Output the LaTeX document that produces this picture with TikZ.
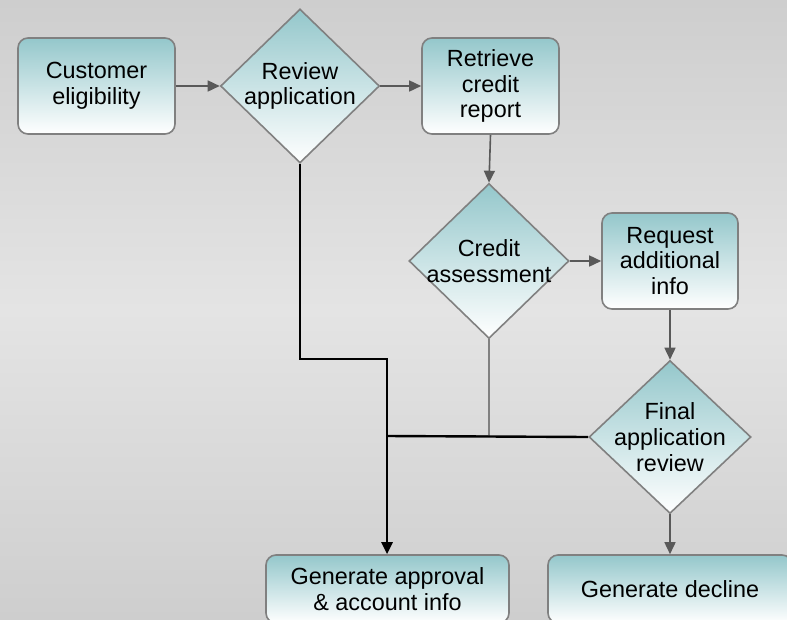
\documentclass[tikz,border=0pt]{standalone}
\usepackage{fontspec}
\setmainfont{Liberation Sans}
\usetikzlibrary{arrows.meta,shapes.geometric}

\definecolor{bgedge}{RGB}{206,206,206}
\definecolor{bgmid}{RGB}{228,228,228}
\definecolor{boxteal}{RGB}{148,199,203}
\definecolor{boxline}{RGB}{128,128,128}
\definecolor{flowgray}{RGB}{89,89,89}

\begin{document}
\begin{tikzpicture}[x=1pt, y=-1pt,
  font=\fontsize{23.4}{25.8}\selectfont,
  >={Triangle[length=12pt, width=11pt]},
  process/.style={rectangle, rounded corners=10pt, draw=boxline, line width=1.6pt,
    top color=boxteal, bottom color=white, align=center, inner sep=0pt,
    minimum width=157pt, minimum height=96pt},
  decision/.style={diamond, draw=boxline, line width=1.6pt,
    top color=boxteal, bottom color=white, inner sep=0pt},
  decisiontext/.style={align=center, inner sep=0pt},
  flow/.style={->, flowgray, line width=1.6pt}]

% Background
\shade[top color=bgedge, bottom color=bgmid] (0,0) rectangle (787,310);
\shade[top color=bgmid, bottom color=bgedge] (0,309) rectangle (787,619);
\useasboundingbox (0,0) rectangle (787,619);

% Steps
\node[process] (elig) at (96.5,86) {Customer\\eligibility};
\node[decision, minimum width=159pt, minimum height=154pt,
  label={[decisiontext]center:Review\\application}] (review) at (300,86) {};
\node[process, minimum width=137pt] (retrieve) at (490.5,86) {Retrieve\\credit\\report};
\node[decision, minimum width=160pt, minimum height=155pt,
  label={[decisiontext]center:Credit\\assessment}] (credit) at (489,261) {};
\node[process, minimum width=136pt] (request) at (670,261) {Request\\additional\\info};
\node[decision, minimum width=162pt, minimum height=153pt,
  label={[decisiontext]center:Final\\application\\review}] (final) at (670,437) {};

% Outcomes
\node[process, minimum width=243pt, minimum height=68pt] (approve) at (387.5,589) {Generate approval\\\& account info};
\node[process, minimum width=244pt, minimum height=68pt] (decline) at (670,589) {Generate decline};

% Join points
\coordinate (bend) at (387,359);
\coordinate (join) at (387,436);

% Connections
\draw[flow] (elig) -- (review);
\draw[flow] (review) -- (retrieve);
\draw[flow] (retrieve.south) -- (credit.north);
\draw[flow] (credit) -- (request);
\draw[flow] (request) -- (final);
\draw[flow] (final) -- (decline);

% Approval paths
\draw[boxline, line width=1.8pt] (credit.south) |- (join);
\draw[black, line width=2pt] (review.south) |- (bend) -- (join);
\draw[black, line width=2.4pt] (final.west) -- (join);
\draw[->, black, line width=2.6pt] (join) -- (join |- approve.north);
\end{tikzpicture}
\end{document}
